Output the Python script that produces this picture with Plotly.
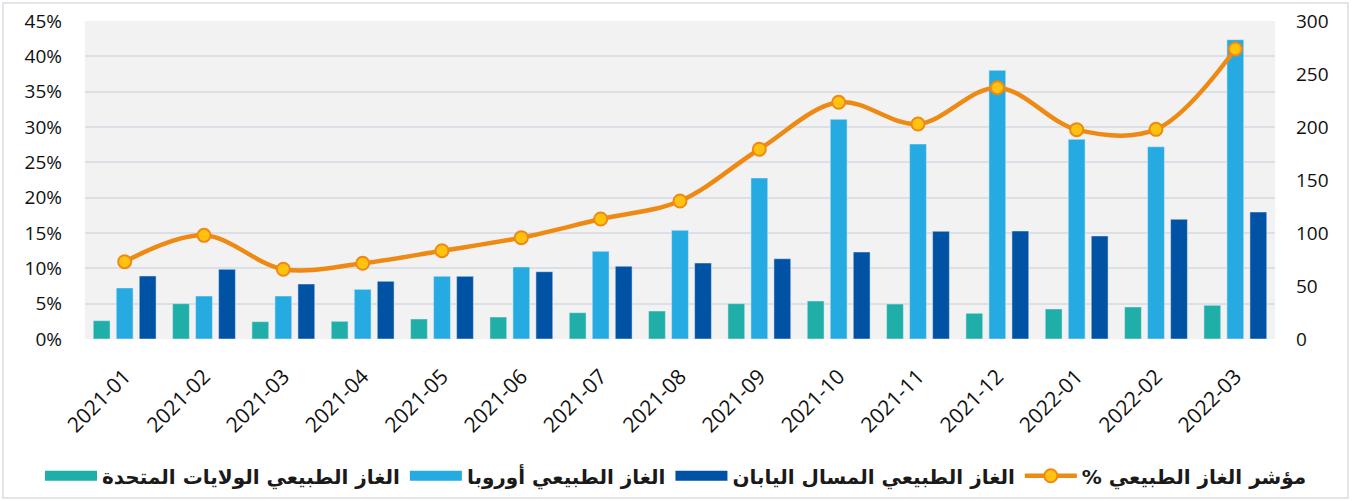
import plotly.graph_objects as go

months = ["2021-01", "2021-02", "2021-03", "2021-04", "2021-05", "2021-06", "2021-07",
          "2021-08", "2021-09", "2021-10", "2021-11", "2021-12", "2022-01", "2022-02", "2022-03"]

us_gas = [2.59, 5.00, 2.45, 2.50, 2.83, 3.11, 3.72, 3.96, 5.00, 5.38, 4.95, 3.64, 4.25, 4.53, 4.77]
europe_gas = [7.22, 6.08, 6.08, 7.03, 8.87, 10.19, 12.41, 15.38, 22.78, 31.09, 27.59, 38.02, 28.26, 27.21, 42.35]
japan_lng = [8.92, 9.86, 7.78, 8.16, 8.87, 9.52, 10.29, 10.75, 11.36, 12.31, 15.24, 15.28, 14.58, 16.94, 17.97]
gas_index = [72.9, 97.8, 65.8, 71.4, 83.3, 95.6, 113.2, 130.2, 179.0, 223.3, 202.8, 237.1, 197.5, 197.8, 273.6]

names = ["الغاز الطبيعي الولايات المتحدة", "الغاز الطبيعي أوروبا",
         "الغاز الطبيعي المسال اليابان", "% مؤشر الغاز الطبيعي"]

left_ticks = [0, 5, 10, 15, 20, 25, 30, 35, 40, 45]
left_labels = [f"{v}%" for v in left_ticks]
right_ticks = [0, 50, 100, 150, 200, 250, 300]

c_teal = "#20AFA8"
c_light = "#25AAE2"
c_dark = "#0053A4"
c_line = "#EE8A14"
c_marker = "#FFC20E"
bar_colors = [c_teal, c_light, c_dark]
bar_series = [us_gas, europe_gas, japan_lng]

tick_font = dict(family="Open Sans, DejaVu Sans, sans-serif", size=19, color="#111111")

fig = go.Figure()
for vals, col, nm in zip(bar_series, bar_colors, names[:3]):
    fig.add_trace(go.Bar(x=months, y=vals, name=nm, marker_color=col, yaxis="y",
                         showlegend=False))
fig.add_trace(go.Scatter(x=months, y=gas_index, name=names[3], yaxis="y2",
                         mode="lines+markers", showlegend=False,
                         line=dict(color=c_line, width=4.5, shape="spline", smoothing=1.0),
                         marker=dict(color=c_marker, size=13, line=dict(color=c_line, width=2))))

# legend entries (wide rectangles like the reference)
for col, nm in zip(bar_colors, names[:3]):
    fig.add_trace(go.Scatter(x=[None], y=[None], name=nm, mode="lines",
                             line=dict(color=col, width=13), yaxis="y"))
fig.add_trace(go.Scatter(x=[None], y=[None], name=names[3], mode="lines+markers", yaxis="y2",
                         line=dict(color=c_line, width=4.5),
                         marker=dict(color=c_marker, size=13, line=dict(color=c_line, width=2))))

fig.update_layout(
    width=1352, height=501,
    margin=dict(l=85, r=77, t=21, b=162, autoexpand=False),
    paper_bgcolor="white",
    plot_bgcolor="#F2F2F2",
    barmode="group",
    bargap=0.13,
    bargroupgap=0.27,
    showlegend=True,
    legend=dict(orientation="h", x=(40 - 85) / 1190, xanchor="left", y=-0.43, yanchor="middle",
                font=dict(family="DejaVu Sans, sans-serif", size=20, color="#1a1a1a", weight="bold"),
                traceorder="normal", itemwidth=52, tracegroupgap=0),
    xaxis=dict(type="category", range=[-0.5, len(months) - 0.5], tickangle=-45,
               tickfont=dict(family="Open Sans, DejaVu Sans, sans-serif", size=21, color="#111111"),
               showgrid=False, automargin=False,
               ticklabelstandoff=20, ticklabelshift=0, showline=False, zeroline=False),
    yaxis=dict(range=[0, 45], tickvals=left_ticks, ticktext=left_labels, tickfont=tick_font,
               showgrid=True, gridcolor="#DCE0E6", gridwidth=2, zeroline=False,
               ticklabelstandoff=22, automargin=False),
    yaxis2=dict(range=[0, 300], tickvals=right_ticks, overlaying="y", side="right",
                tickfont=tick_font, showgrid=False, zeroline=False, ticklabelstandoff=20,
                automargin=False),
    shapes=[dict(type="rect", xref="paper", yref="paper",
                 x0=(3 - 85) / 1190, x1=(1348 - 85) / 1190,
                 y0=(339 - 498) / 318, y1=(339 - 3) / 318,
                 line=dict(color="#D9DDE2", width=1.5), fillcolor="rgba(0,0,0,0)", layer="below")],
)

fig.write_html("out.html", config={"displayModeBar": False},
               post_script="document.body.style.margin='0';document.body.style.overflow='hidden';")
